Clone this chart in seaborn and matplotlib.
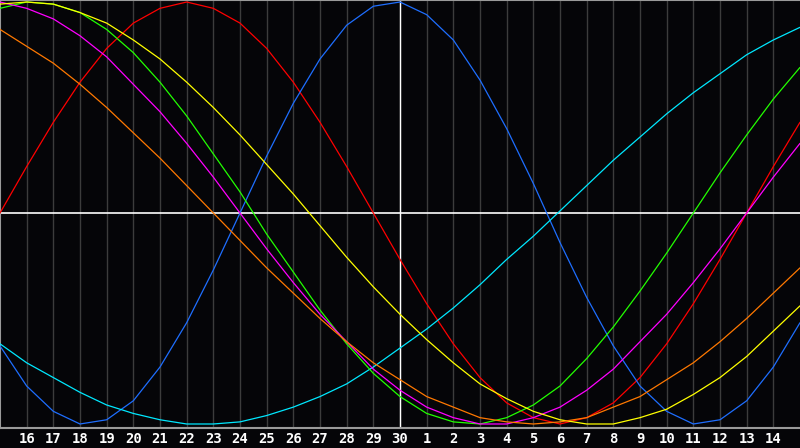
import numpy as np
import pandas as pd
import matplotlib
matplotlib.use("Agg")
import matplotlib.pyplot as plt
import seaborn as sns

# day positions (0 = left edge, 15 = the 30th, 30 = right edge)
days = list(range(31))
tick_pos = list(range(1, 30))
tick_labels = [str(d) for d in range(16, 31)] + [str(d) for d in range(1, 15)]

red = [0.00, 0.22, 0.43, 0.62, 0.78, 0.90, 0.97, 1.00, 0.97, 0.90, 0.78, 0.62, 0.43, 0.22, 0.00, -0.22,
       -0.43, -0.62, -0.78, -0.90, -0.97, -1.00, -0.97, -0.90, -0.78, -0.62, -0.43, -0.22, 0.00, 0.22, 0.43]
blue = [-0.63, -0.82, -0.94, -1.00, -0.98, -0.89, -0.73, -0.52, -0.27, 0.00, 0.27, 0.52, 0.73, 0.89, 0.98, 1.00,
        0.94, 0.82, 0.63, 0.40, 0.14, -0.14, -0.40, -0.63, -0.82, -0.94, -1.00, -0.98, -0.89, -0.73, -0.52]
cyan = [-0.62, -0.71, -0.78, -0.85, -0.91, -0.95, -0.98, -1.00, -1.00, -0.99, -0.96, -0.92, -0.87, -0.81, -0.73, -0.64,
        -0.55, -0.45, -0.34, -0.22, -0.11, 0.01, 0.13, 0.25, 0.36, 0.47, 0.57, 0.66, 0.75, 0.82, 0.88]
green = [0.97, 1.00, 0.99, 0.95, 0.87, 0.76, 0.62, 0.46, 0.28, 0.10, -0.10, -0.28, -0.46, -0.62, -0.76, -0.87,
         -0.95, -0.99, -1.00, -0.97, -0.91, -0.82, -0.69, -0.54, -0.37, -0.19, 0.00, 0.19, 0.37, 0.54, 0.69]
magenta = [1.00, 0.97, 0.92, 0.84, 0.74, 0.61, 0.48, 0.33, 0.17, 0.00, -0.17, -0.33, -0.48, -0.61, -0.74, -0.84,
           -0.92, -0.97, -1.00, -1.00, -0.97, -0.92, -0.84, -0.74, -0.61, -0.48, -0.33, -0.17, 0.00, 0.17, 0.33]
yellow = [0.99, 1.00, 0.99, 0.95, 0.90, 0.82, 0.73, 0.62, 0.50, 0.37, 0.23, 0.09, -0.06, -0.21, -0.35, -0.48,
          -0.60, -0.71, -0.81, -0.88, -0.94, -0.98, -1.00, -1.00, -0.97, -0.93, -0.86, -0.78, -0.68, -0.56, -0.44]
orange = [0.87, 0.79, 0.71, 0.61, 0.50, 0.38, 0.26, 0.13, 0.00, -0.13, -0.26, -0.38, -0.50, -0.61, -0.71, -0.79,
          -0.87, -0.92, -0.97, -0.99, -1.00, -0.99, -0.97, -0.92, -0.87, -0.79, -0.71, -0.61, -0.50, -0.38, -0.26]

series = {
    "red": red, "blue": blue, "cyan": cyan, "green": green,
    "magenta": magenta, "yellow": yellow, "orange": orange,
}
palette = {
    "red": "#ff0000", "blue": "#1e6eff", "cyan": "#00e8ff", "green": "#22ff00",
    "magenta": "#ff00ff", "yellow": "#ffff00", "orange": "#ff7800",
}

df = pd.concat([pd.DataFrame({"day": days, "value": v, "cycle": k}) for k, v in series.items()])

sns.set_style("dark")
fig = plt.figure(figsize=(8, 4.48), dpi=100, facecolor="#050508")
ax = fig.add_axes([0, 20 / 448, 1, 428 / 448])
ax.set_facecolor("#050508")

for p in tick_pos:
    ax.axvline(p, color="#3c3c3c", lw=1, zorder=0)
ax.axvline(15, color="white", lw=1, zorder=1)
ax.axhline(0, color="white", lw=1.2, zorder=1)

sns.lineplot(data=df, x="day", y="value", hue="cycle", palette=palette,
             linewidth=0.9, legend=False, ax=ax, zorder=3)

ax.set_xlim(0, 30)
ax.set_ylim(-1.019, 1.0095)
ax.set_xticks(tick_pos)
ax.set_xticklabels(tick_labels, color="white", fontweight="bold",
                   fontsize=10, family="DejaVu Sans Mono")
ax.tick_params(axis="x", length=0, pad=3)
ax.set_yticks([])
ax.set_xlabel("")
ax.set_ylabel("")
ax.grid(False)
for side in ["left", "top", "bottom"]:
    ax.spines[side].set_color("#9a9a9a")
    ax.spines[side].set_linewidth(1.5)
    ax.spines[side].set_visible(True)
ax.spines["right"].set_visible(False)

fig.savefig("out.png", dpi=100, facecolor=fig.get_facecolor())
